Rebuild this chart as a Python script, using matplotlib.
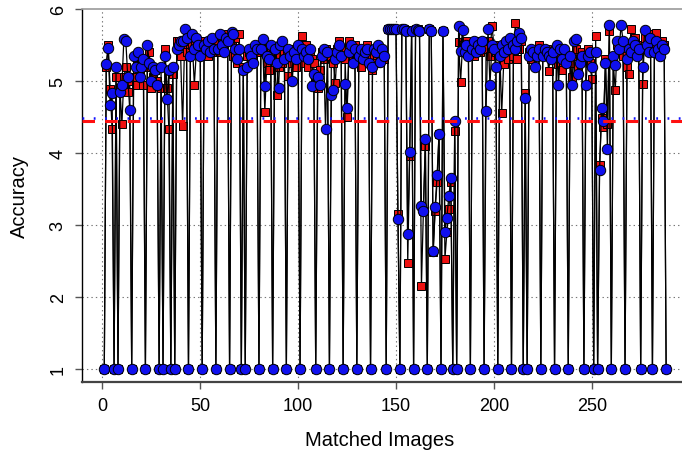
import matplotlib
matplotlib.use("Agg")
import matplotlib.pyplot as plt

plt.rcParams['font.family'] = ['Liberation Sans', 'DejaVu Sans']
plt.rcParams['lines.scale_dashes'] = False

# accuracy per matched image, two methods (red squares / blue circles)
red_acc = [
    1.00, 5.20, 5.50, 4.89, 4.33, 1.00, 5.05, 1.00, 4.90, 4.40,
    5.05, 5.20, 4.85, 5.00, 1.00, 5.05, 4.95, 5.30, 5.10, 5.25,
    4.95, 1.00, 5.20, 5.40, 4.90, 5.05, 5.15, 5.00, 1.00, 4.90,
    1.00, 5.45, 4.90, 4.33, 1.00, 5.10, 1.00, 5.55, 5.55, 5.35,
    4.37, 5.50, 5.40, 1.00, 5.55, 5.50, 4.95, 5.40, 5.45, 5.55,
    1.00, 5.55, 5.50, 5.35, 5.45, 5.55, 5.40, 1.00, 5.55, 5.40,
    5.60, 5.50, 5.55, 5.65, 1.00, 5.55, 5.35, 5.60, 5.25, 5.65,
    1.00, 5.20, 1.00, 5.35, 5.40, 5.25, 5.30, 5.45, 5.40, 1.00,
    5.50, 5.45, 4.57, 5.25, 5.15, 5.40, 1.00, 5.30, 4.80, 5.20,
    5.35, 5.25, 5.40, 1.00, 5.07, 5.30, 5.25, 5.45, 5.20, 5.35,
    1.00, 5.63, 5.25, 5.50, 5.20, 5.35, 5.30, 5.25, 1.00, 4.90,
    5.15, 5.40, 5.30, 5.45, 5.35, 1.00, 5.40, 5.25, 4.97, 5.45,
    5.55, 5.45, 1.00, 5.30, 4.50, 5.55, 5.45, 5.30, 5.50, 1.00,
    5.40, 5.20, 5.45, 5.30, 5.50, 5.35, 1.00, 5.15, 5.35, 5.25,
    5.45, 5.26, 5.40, 5.30, 1.00, 5.72, 5.72, 5.72, 5.72, 5.72,
    3.15, 1.00, 5.72, 5.72, 5.71, 2.47, 3.96, 5.70, 1.00, 5.72,
    5.72, 5.70, 2.15, 3.20, 4.10, 1.00, 5.72, 5.70, 2.62, 3.20,
    3.60, 4.27, 1.00, 5.70, 2.53, 2.90, 3.22, 3.60, 1.00, 4.30,
    1.00, 5.54, 4.99, 5.50, 5.45, 5.55, 5.40, 1.00, 5.50, 5.35,
    5.45, 5.55, 5.40, 5.50, 1.00, 5.45, 5.55, 5.35, 5.77, 5.50,
    5.40, 1.00, 5.45, 4.55, 5.24, 5.50, 5.30, 5.45, 1.00, 5.35,
    5.81, 5.30, 5.45, 5.55, 1.00, 4.83, 1.00, 5.40, 5.30, 5.45,
    5.35, 5.40, 5.50, 1.00, 5.40, 5.35, 5.45, 5.14, 5.40, 5.35,
    1.00, 5.45, 5.24, 5.35, 5.15, 5.40, 5.30, 1.00, 5.25, 5.05,
    5.35, 5.45, 5.20, 5.30, 5.40, 1.00, 5.30, 5.45, 5.25, 5.03,
    1.00, 5.63, 1.00, 3.83, 4.49, 4.36, 5.30, 4.40, 5.70, 1.00,
    5.25, 4.87, 5.50, 5.40, 5.55, 5.35, 1.00, 5.20, 5.10, 5.72,
    5.45, 5.60, 5.50, 5.40, 1.00, 4.96, 5.60, 5.45, 5.55, 5.65,
    1.00, 5.45, 5.67, 5.50, 5.40, 5.55, 5.50, 1.00,
]

blue_acc = [
    1.00, 5.24, 5.46, 4.67, 4.83, 1.00, 5.20, 1.00, 4.85, 4.95,
    5.58, 5.55, 5.05, 4.60, 1.00, 5.35, 5.20, 5.40, 5.05, 5.20,
    5.30, 1.00, 5.50, 5.25, 5.00, 5.20, 5.15, 4.95, 1.00, 5.20,
    1.00, 5.35, 4.75, 5.15, 1.00, 5.20, 1.00, 5.45, 5.50, 5.55,
    5.55, 5.72, 5.60, 1.00, 5.35, 5.65, 5.45, 5.60, 5.50, 5.35,
    1.00, 5.50, 5.45, 5.55, 5.40, 5.60, 5.45, 1.00, 5.45, 5.65,
    5.50, 5.40, 5.60, 5.55, 1.00, 5.68, 5.65, 5.45, 5.30, 5.45,
    1.00, 5.15, 1.00, 5.20, 5.45, 5.35, 5.25, 5.50, 5.45, 1.00,
    5.45, 5.58, 4.93, 5.35, 5.30, 5.50, 1.00, 5.45, 5.25, 4.90,
    5.50, 5.55, 5.30, 1.00, 5.45, 5.35, 5.00, 5.40, 5.30, 5.50,
    1.00, 5.45, 5.35, 5.40, 5.30, 5.45, 4.93, 5.10, 1.00, 5.05,
    4.95, 5.35, 5.45, 4.34, 5.40, 1.00, 4.81, 4.88, 5.30, 5.40,
    5.50, 5.35, 1.00, 4.96, 4.62, 5.40, 5.50, 5.25, 5.45, 1.00,
    5.35, 5.45, 5.30, 5.40, 5.45, 5.25, 1.00, 5.19, 5.45, 5.40,
    5.50, 5.27, 5.44, 5.35, 1.00, 5.72, 5.72, 5.72, 5.72, 5.72,
    3.08, 1.00, 5.72, 5.72, 5.70, 2.87, 4.01, 5.70, 1.00, 5.72,
    5.71, 5.70, 3.26, 3.20, 4.20, 1.00, 5.72, 5.70, 2.64, 3.25,
    3.70, 4.27, 1.00, 5.70, 2.90, 3.10, 3.40, 3.65, 1.00, 4.45,
    1.00, 5.77, 5.42, 5.71, 5.40, 5.50, 5.35, 1.00, 5.45, 5.55,
    5.40, 5.50, 5.45, 5.55, 1.00, 4.59, 5.72, 4.94, 5.50, 5.45,
    5.20, 1.00, 5.35, 5.50, 5.40, 5.55, 5.45, 5.60, 1.00, 5.50,
    5.45, 5.55, 5.67, 5.60, 1.00, 4.76, 1.00, 5.35, 5.45, 5.40,
    5.20, 5.35, 5.45, 1.00, 5.35, 5.45, 5.40, 5.35, 5.30, 5.40,
    1.00, 5.50, 4.94, 5.45, 5.30, 5.45, 5.25, 1.00, 5.35, 4.95,
    5.55, 5.58, 5.10, 5.25, 5.35, 1.00, 4.94, 5.35, 5.40, 5.20,
    1.00, 5.40, 1.00, 3.77, 4.62, 4.45, 5.25, 4.05, 5.78, 1.00,
    5.35, 5.22, 5.55, 5.45, 5.78, 5.55, 1.00, 5.30, 5.45, 5.40,
    5.55, 5.50, 5.35, 5.45, 1.00, 5.20, 5.71, 5.50, 5.40, 5.60,
    1.00, 5.40, 5.55, 5.45, 5.35, 5.50, 5.44, 1.00,
]

red_mean = 4.45
blue_mean = 4.49

images = list(range(1, len(red_acc) + 1))

fig = plt.figure(figsize=(6.82, 4.60), dpi=100)
ax = fig.add_axes([0.1202, 0.1674, 0.8798, 0.8109])

# dotted grid like R's grid()
for gx in [0, 50, 100, 150, 200, 250]:
    ax.axvline(gx, color='#777777', lw=0.8, dashes=(1, 2.2), zorder=0)
for gy in [1, 2, 3, 4, 5]:
    ax.axhline(gy, color='#777777', lw=0.8, dashes=(1, 2.2), zorder=0)

ax.plot(images, red_acc, color='black', lw=0.9, marker='s', ms=6.3,
        mfc='#ee1111', mec='black', mew=0.7, zorder=2)
ax.plot(images, blue_acc, color='black', lw=0.9, marker='o', ms=7.5,
        mfc='#1010ee', mec='black', mew=0.7, zorder=3)

ax.axhline(red_mean, color='#ff1010', lw=2.2, dashes=(9, 7.3), zorder=4)
ax.axhline(blue_mean, color='#1010ff', lw=1.8, dashes=(1.3, 6.8), zorder=4)

ax.set_xlim(-10.4, 296.1)
ax.set_ylim(0.82, 6.0)
ax.set_xticks([0, 50, 100, 150, 200, 250])
ax.set_yticks([1, 2, 3, 4, 5, 6])

ax.spines['right'].set_visible(False)
ax.spines['top'].set_color('#999999')
ax.spines['top'].set_linewidth(1.2)
ax.spines['left'].set_color('black')
ax.spines['left'].set_linewidth(1.0)
ax.spines['bottom'].set_color('#444444')
ax.spines['bottom'].set_linewidth(1.6)

ax.tick_params(axis='both', direction='out', length=5, width=1,
               color='#555555', labelsize=13, pad=6)
for lab in ax.get_yticklabels():
    lab.set_rotation(90)
    lab.set_va('center')

ax.set_xlabel('Matched Images', fontsize=14.5)
ax.set_ylabel('Accuracy', fontsize=14.5)
ax.xaxis.set_label_coords(0.4966, -0.128)
ax.yaxis.set_label_coords(-0.088, 0.5)

fig.savefig('out.png', dpi=100)
